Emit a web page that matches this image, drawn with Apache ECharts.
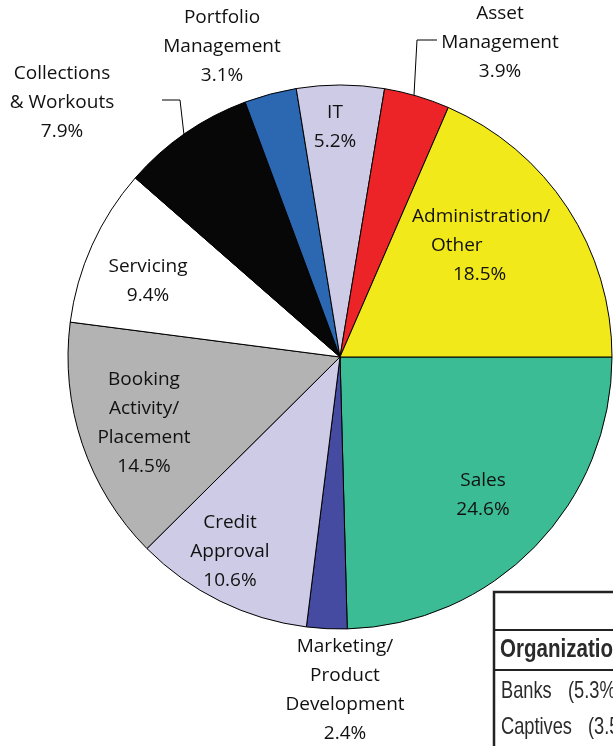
<!DOCTYPE html>
<html>
<head>
<meta charset="utf-8">
<script src="https://cdn.jsdelivr.net/npm/echarts@6/dist/echarts.min.js"></script>
<style>
  html, body { margin: 0; padding: 0; background: #fff; }
  #main { width: 613px; height: 746px; }
</style>
</head>
<body>
<div id="main"></div>
<script>
// Datos del grafico (en sentido horario desde las 3 en punto)
var categorias = ['Sales', 'Marketing/\nProduct\nDevelopment', 'Credit\nApproval',
    'Booking\nActivity/\nPlacement', 'Servicing', 'Collections\n& Workouts',
    'Portfolio\nManagement', 'IT', 'Asset\nManagement', 'Administration/\nOther'];
var valores = [24.6, 2.4, 10.6, 14.5, 9.4, 7.9, 3.1, 5.2, 3.9, 18.5];
var colores = ['#3bbc94', '#454ba0', '#cecbe6', '#b3b3b3', '#ffffff',
    '#070707', '#2c67b1', '#cecbe6', '#ed2427', '#f2e91b'];

// Posicion de cada etiqueta (centro del bloque de texto)
var posEtiquetas = [[483, 495], [345, 690], [230, 552], [144, 423], [148, 281],
    [62, 103], [222, 47], [335, 127], [500, 43], [412, 246]];
// Lineas guia de las etiquetas exteriores
var lineasGuia = {
    5: [[184, 135], [180, 100], [162, 100]],
    8: [[414, 95], [417, 40], [437, 40]]
};

// Tabla recortada en la esquina inferior derecha
var tablaTitulo = 'Organization Type';
var tablaFilas = [['Banks', '(5.3%)'], ['Captives', '(3.5%)']];

var grafico = echarts.init(document.getElementById('main'));

var datos = categorias.map(function (nombre, i) {
    var item = {
        name: nombre,
        value: valores[i],
        itemStyle: { color: colores[i] },
        labelLine: { show: !!lineasGuia[i] }
    };
    if (i === 9) {
        item.label = {
            align: 'left',
            formatter: '{a|Administration/}\n{b|Other}\n{c|' + valores[i].toFixed(1) + '%}',
            rich: {
                a: { fontSize: 19, lineHeight: 29, fontFamily: 'Open Sans', color: '#111' },
                b: { fontSize: 19, lineHeight: 29, fontFamily: 'Open Sans', color: '#111', padding: [0, 0, 0, 19] },
                c: { fontSize: 19, lineHeight: 29, fontFamily: 'Open Sans', color: '#111', padding: [0, 0, 0, 41] }
            }
        };
    }
    return item;
});

// Texto estrecho para la tabla (Liberation Sans comprimido)
var fuenteTabla = '"Liberation Sans", Arial, sans-serif';
function textoTabla(txt, x, y, negrita, tam, escala) {
    return {
        type: 'text', x: x, y: y, scaleX: escala,
        style: {
            text: txt, fill: '#2a2a2a', verticalAlign: 'middle',
            font: (negrita ? 'bold ' : '') + tam + 'px ' + fuenteTabla
        }
    };
}

var option = {
    animation: false,
    backgroundColor: '#ffffff',
    series: [{
        type: 'pie',
        center: [340, 357],
        radius: 272,
        startAngle: 0,
        clockwise: true,
        avoidLabelOverlap: false,
        itemStyle: {
            borderColor: '#000',
            borderWidth: 1
        },
        label: {
            show: true,
            position: 'outside',
            fontFamily: 'Open Sans',
            fontSize: 19,
            lineHeight: 29,
            color: '#111',
            align: 'center',
            formatter: function (p) {
                return p.name + '\n' + p.value.toFixed(1) + '%';
            }
        },
        labelLine: {
            lineStyle: { color: '#000', width: 1 }
        },
        labelLayout: function (p) {
            var pos = posEtiquetas[p.dataIndex];
            var res = {
                x: pos[0],
                y: pos[1],
                align: p.dataIndex === 9 ? 'left' : 'center',
                verticalAlign: 'middle'
            };
            if (lineasGuia[p.dataIndex]) {
                res.labelLinePoints = lineasGuia[p.dataIndex];
            }
            return res;
        },
        data: datos
    }],
    graphic: [
        {
            type: 'rect',
            shape: { x: 494, y: 592, width: 200, height: 200 },
            style: { fill: 'none', stroke: '#222', lineWidth: 2.5 }
        },
        {
            type: 'line',
            shape: { x1: 494, y1: 630, x2: 613, y2: 630 },
            style: { stroke: '#222', lineWidth: 2 }
        },
        {
            type: 'line',
            shape: { x1: 494, y1: 670, x2: 613, y2: 670 },
            style: { stroke: '#222', lineWidth: 2 }
        },
        textoTabla(tablaTitulo, 500, 650, true, 26, 0.79),
        textoTabla(tablaFilas[0][0], 501, 691, false, 24, 0.76),
        textoTabla(tablaFilas[0][1], 568, 691, false, 24, 0.76),
        textoTabla(tablaFilas[1][0], 501, 727, false, 24, 0.76),
        textoTabla(tablaFilas[1][1], 588, 727, false, 24, 0.76)
    ]
};

grafico.setOption(option);
</script>
</body>
</html>
